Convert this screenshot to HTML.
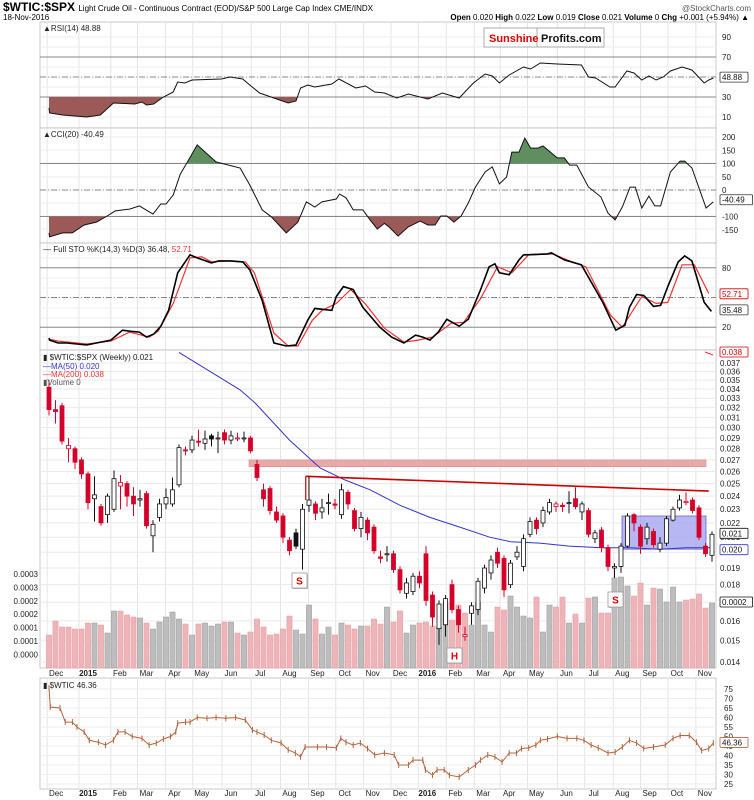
<!DOCTYPE html>
<html><head><meta charset="utf-8">
<style>
body{margin:0;background:#fff;}
svg{display:block;font-family:"Liberation Sans",sans-serif;}
</style></head>
<body>
<svg id="c" width="754" height="800" viewBox="0 0 754 800" xmlns="http://www.w3.org/2000/svg">
<rect x="0" y="0" width="754" height="800" fill="#fff"/>
<g>
<text x="3" y="11" font-size="12" font-weight="bold">$WTIC:$SPX <tspan font-size="8" font-weight="normal">Light Crude Oil - Continuous Contract (EOD)/S&amp;P 500 Large Cap Index  CME/INDX</tspan></text>
<text x="751" y="11" font-size="8" fill="#555" text-anchor="end">@StockCharts.com</text>
<text x="3" y="20" font-size="8">18-Nov-2016</text>
<text x="749" y="20" font-size="8" text-anchor="end"><tspan font-weight="bold">Open</tspan> 0.020 <tspan font-weight="bold">High</tspan> 0.022 <tspan font-weight="bold">Low</tspan> 0.019 <tspan font-weight="bold">Close</tspan> 0.021 <tspan font-weight="bold">Volume</tspan> 0 <tspan font-weight="bold">Chg</tspan> +0.001 (+5.94%) ▲</text>
</g>
<g id="grid"></g>
<g id="marks"></g>
<g id="labels"></g>
<g>
<rect x="484" y="28" width="120" height="19" fill="#fff" stroke="#999" stroke-width="0.8"/>
<line x1="537" y1="28" x2="537" y2="47" stroke="#999" stroke-width="0.8"/>
<text x="489" y="42" font-size="11" font-weight="bold" fill="#d00">Sunshine</text>
<text x="541" y="42" font-size="11" font-weight="bold" fill="#111">Profits.com</text>
</g>
</svg>
<script>
// ---------- DATA ----------
const candleOpen=[.0342,.0318,.0322,.0280,.0280,.0270,.0258,.0238,.0232,.0226,.0230,.0248,.0250,.0240,.0237,.0242,.0211,.0224,.0234,.0234,.0249,.0279,.0279,.0287,.0285,.0292,.0290,.0295,.0288,.0290,.0290,.0290,.0266,.0245,.0246,.0228,.0225,.0208,.0213,.0202,.0233,.0234,.0228,.0235,.0234,.0226,.0243,.0229,.0216,.0222,.0217,.0197,.0199,.0199,.0189,.0175,.0176,.0185,.0199,.0174,.0156,.0158,.0180,.0166,.0152,.0164,.0166,.0178,.0187,.0200,.0196,.0180,.0197,.0191,.0212,.0222,.0220,.0228,.0232,.0233,.0235,.0238,.0228,.0229,.0209,.0215,.0203,.0190,.0191,.0204,.0226,.0217,.0209,.0214,.0202,.0206,.0222,.0231,.0235,.0237,.0231,.0204,.0198];
const candleClose=[.0318,.0316,.0287,.0283,.0268,.0258,.0235,.0241,.0220,.0240,.0254,.0251,.0240,.0234,.0238,.0218,.0219,.0234,.0239,.0245,.0281,.0278,.0288,.0286,.0289,.0289,.0290,.0288,.0292,.0290,.0290,.0278,.0255,.0238,.0229,.0222,.0210,.0201,.0204,.0230,.0237,.0227,.0231,.0235,.0233,.0245,.0234,.0216,.0224,.0213,.0201,.0196,.0199,.0189,.0177,.0181,.0185,.0181,.0171,.0162,.0169,.0172,.0166,.0158,.0153,.0168,.0182,.0190,.0195,.0193,.0177,.0193,.0200,.0209,.0221,.0216,.0229,.0235,.0234,.0232,.0235,.0232,.0234,.0212,.0213,.0203,.0191,.0191,.0204,.0225,.0220,.0204,.0217,.0205,.0206,.0223,.0230,.0237,.0236,.0229,.0210,.0199,.0212];
const candleHigh=[.0350,.0328,.0325,.0290,.0282,.0272,.0260,.0256,.0234,.0242,.0261,.0257,.0252,.0247,.0245,.0244,.0222,.0238,.0246,.0255,.0284,.0282,.0292,.0298,.0297,.0294,.0296,.0298,.0297,.0295,.0296,.0292,.0270,.0250,.0248,.0232,.0227,.0210,.0216,.0234,.0256,.0236,.0238,.0242,.0238,.0250,.0245,.0231,.0228,.0224,.0219,.0201,.0204,.0201,.0191,.0184,.0187,.0188,.0204,.0176,.0171,.0174,.0183,.0168,.0157,.0170,.0184,.0192,.0198,.0203,.0198,.0195,.0204,.0212,.0224,.0224,.0232,.0238,.0236,.0235,.0244,.0247,.0236,.0231,.0215,.0217,.0205,.0193,.0206,.0227,.0227,.0219,.0220,.0216,.0210,.0225,.0232,.0241,.0243,.0239,.0233,.0206,.0214];
const candleLow=[.0312,.0304,.0284,.0268,.0262,.0254,.0230,.0221,.0218,.0220,.0228,.0230,.0232,.0225,.0232,.0216,.0200,.0221,.0230,.0232,.0247,.0274,.0276,.0282,.0279,.0282,.0276,.0284,.0284,.0287,.0286,.0276,.0252,.0232,.0226,.0220,.0206,.0198,.0202,.0189,.0228,.0222,.0223,.0226,.0230,.0223,.0230,.0214,.0210,.0208,.0199,.0193,.0194,.0187,.0175,.0172,.0174,.0178,.0168,.0157,.0148,.0152,.0164,.0154,.0150,.0158,.0163,.0175,.0183,.0190,.0173,.0178,.0195,.0188,.0210,.0212,.0217,.0226,.0228,.0228,.0227,.0230,.0222,.0210,.0206,.0200,.0188,.0184,.0187,.0203,.0214,.0199,.0205,.0203,.0200,.0204,.0221,.0229,.0233,.0227,.0208,.0197,.0194];
const volume=[33,47,41,41,39,39,45,45,43,35,57,57,53,51,50,45,39,46,51,56,49,44,33,44,45,42,44,46,46,35,33,36,49,41,33,34,39,52,38,34,63,49,34,41,33,45,43,39,42,42,49,44,61,46,57,35,43,45,46,42,41,65,48,63,55,43,66,43,36,61,58,72,61,52,50,71,36,63,61,71,45,54,45,70,71,55,55,90,91,82,72,85,63,80,79,66,81,66,68,69,74,60,65];
const ma50Weeks=[20,29.4,31.7,37,41.7,45.5,49.4,54,58.6,63.2,67.8,71,75.5,80,85,89.4,94,98,102];
const ma50Values=[.0383,.0339,.0325,.0288,.0263,.0253,.0245,.0233,.0224,.0217,.0210,.0207,.0206,.0204,.0203,.0203,.0202,.0203,.0203];
const rsiWeeks=[0,0.1,2.1,5.8,7.9,9.9,13.2,14.3,15,16.1,17.6,19.1,19.8,20.9,22,26.5,27.9,29.8,30.9,32.4,34.6,36.8,38,38.7,39.8,40.9,43.5,44.6,47.2,48.7,50.1,51.6,53.5,55.3,58.3,60.5,63.1,65.3,67.1,68.2,69.3,70.8,73,74.1,75.6,78.2,81.9,83,84.1,86.3,87.1,88.9,90,91.2,92.3,93.4,94.5,95.6,97.4,98.9,100.8,101.5,102.2];
const rsiValues=[19,14,12,10,12,24,23,25,22,23,30,35,45,44,47,48,50,48,42,34,29,24,26,39,42,40,43,48,39,41,35,34,29,33,28,34,29,44,53,51,44,52,60,58,64,63,62,50,49,40,40,56,54,47,51,47,50,56,60,57,44,47,49];
const cciWeeks=[0,0.1,2.1,3.6,5.4,7.3,8.7,10.2,12.4,13.9,16,17.2,18,19.1,20.2,21.3,22.8,25.7,29.4,30.9,32.8,34.2,36.5,38.3,39.6,40.9,42,44.2,44.7,45.7,46.8,48.3,49.4,50.5,51.6,52.3,53.7,55.3,57.1,58.3,59.4,60.3,61.2,62.3,63.4,64.5,65.6,67.1,68.2,69.3,70.4,71.2,72.3,73.2,74.1,75.2,76,78.2,79.3,80.1,81.2,83,84.9,86,87.1,88.2,89.4,90.2,91.2,92.3,93.2,94.1,95.6,97.1,97.8,98.9,101.1,102.2];
const cciValues=[-162,-177,-162,-162,-132,-121,-102,-79,-72,-60,-91,-53,-53,-19,60,106,170,106,83,19,-75,-101,-162,-121,-45,-64,-45,-34,-15,-30,-75,-75,-113,-147,-126,-139,-174,-139,-117,-132,-132,-98,-98,-121,-98,-49,11,68,87,23,49,143,143,196,158,158,166,121,121,94,94,11,-26,-87,-113,-64,11,11,-68,-23,-60,-60,68,109,109,83,-68,-45];
const stoKWeeks=[0,0.1,1.4,2.8,5.8,7.3,9.5,11.3,12.4,13.9,15,16.1,17.2,18.4,19.8,21.7,22.8,25,26.1,27.9,29.8,30.9,32.8,34.6,36.5,38,39.8,40.9,43.5,44.2,45.3,46.8,48.3,50.9,52.7,54.6,56.4,57.5,58.6,59.9,61.2,63.1,64.5,66.4,67.7,68.6,69.3,70.8,72.3,73,76.7,77.3,79.3,81.9,85.2,87.2,88.6,89.3,90.4,91.5,93,94.1,95.2,96.8,97.8,98.9,100.8,101.9];
const stoKValues=[9,7,4,4,2,4,7,17,16,15,10,13,21,37,75,93,90,85,87,87,86,78,47,4,1,2,27,39,37,51,61,58,40,20,10,4,12,10,7,15,28,21,28,58,81,84,75,73,88,93,94,95,88,83,45,17,22,40,53,52,41,42,61,86,92,87,45,36];
const stoDWeeks=[0,1.4,5.8,9.5,12.4,15.4,16.8,19.1,21.7,23.5,25,27.9,30.2,31.6,34.6,36.8,38.3,40.5,42,44.2,46.4,48.6,51.6,54.6,56.8,59,61.9,63.8,66.4,69,71.2,73.8,77.5,79.7,82.6,86.4,88.2,91.2,93.4,95.2,97.4,99.3,101.5];
const stoDValues=[8,6,3,6,15,10,16,44,90,91,86,87,86,75,14,1,1,27,37,44,58,44,19,5,7,10,24,25,49,81,75,93,94,88,81,32,20,51,44,45,83,83,54];
const wticWeeks=[0,0.2,1.7,2.5,3.6,4.3,5.4,6.2,7.6,8.7,9.9,10.6,11.7,12.8,14.3,15.4,16.5,17.6,18.7,19.5,19.8,21,21.7,22.8,24.3,25.7,27.2,28.7,30.2,31.3,32,33.1,34.2,35.7,36.8,37.9,38.7,39.4,41.3,42.7,44.2,44.9,45.7,46.8,47.9,49,50.1,51.6,53.1,53.8,55.3,56,57.5,57.9,59,59.7,60.8,61.6,63.1,64.5,65.6,66.4,67.5,68.6,69.7,70.8,71.9,72.7,73.8,74.9,75.6,76.7,78.2,79.7,81.2,82.3,83.4,84.5,86,87.1,88.2,89.3,90.4,91.5,93,94.8,96,97.1,98.5,99.6,100.4,101.5,102.2];
const wticValues=[75.5,65.5,65,57.6,57.6,55,52.4,48,47,45.5,48,52.4,52.4,50,49,45.5,46.6,48.7,50,52.4,57,57.6,57.6,60,59.6,60,59.6,60,58.7,53.4,52.4,50.8,48,46.6,43,41.3,39.3,44.5,44.5,44.5,44,49,47,45.5,46.6,43.7,40.3,41.3,40.3,35,35,37.6,37.6,32.4,29.7,32.4,32.4,29.7,28.7,32.4,35,37.6,40.3,39.3,36.6,41.3,41.3,43.7,44,45.5,48,48.7,50,49,49,48,45.5,44,41.3,41.8,44.5,48,46.6,43.7,44.5,45.5,49,50.5,50.5,47,42.6,43.7,46.6];
const monthNames=["Dec","2015","Feb","Mar","Apr","May","Jun","Jul","Aug","Sep","Oct","Nov","Dec","2016","Feb","Mar","Apr","May","Jun","Jul","Aug","Sep","Oct","Nov"];
const monthWeeks=[1.1,6,10.9,15,19.3,23.5,28,32.5,37,41.3,45.5,49.8,54,58.2,62.5,66.8,70.8,75,79.6,83.8,88.2,92.4,96.6,100.9];
const priceTicks=[.037,.036,.035,.034,.033,.032,.031,.030,.029,.028,.027,.026,.025,.024,.023,.022,.021,.020,.019,.018,.017,.016,.015,.014];
const wticTicks=[75,70,65,60,55,50,45,40,35,30,25];
const rsiTicks=[90,70,50,30,10];
const cciTicks=[200,150,100,50,0,-100,-150];
const volTicks=["0.0003","0.0003","0.0002","0.0002","0.0001","0.0001","0.0000"];
const resistWeeks=[39.5,101.5];
const resistValues=[.0256,.0244];

// ---------- SCALES ----------
const NS="http://www.w3.org/2000/svg";
const L=40,R=716;
const X=i=>49+i*6.5;
const yP=v=>363+(Math.log(.037)-Math.log(v))/0.972*299;
const yRSI=v=>127-v;
const yCCI=v=>190-v*0.265;
const ySTO=v=>347-v*0.99;
const yW=v=>689+(75-v)*1.9;
const yVol=v=>668-v;
function mk(tag,attrs,parent){const e=document.createElementNS(NS,tag);for(const k in attrs)e.setAttribute(k,attrs[k]);parent.appendChild(e);return e;}
const G=document.getElementById('grid'),M=document.getElementById('marks'),LB=document.getElementById('labels');
function txt(x,y,s,size,fill,anchor,parent,weight){const t=mk('text',{x:x,y:y,'font-size':size,fill:fill||'#222','text-anchor':anchor||'start'},parent);if(weight)t.setAttribute('font-weight',weight);t.textContent=s;return t;}
function box(x,y,s,col){const w=s.length*4.6+5;const r=mk('rect',{x:x-2,y:y-6,width:w,height:10,fill:'#fff',stroke:col,'stroke-width':0.8,rx:1},LB);const t=txt(x,y+2,s,8,col==='#c00'?'#c00':'#111','start',LB);}

const panels=[[22,128,'rsi-panel'],[128,243,'cci-panel'],[243,350,'sto-panel'],[350,668,'price-panel'],[678,789,'wtic-panel']];
panels.forEach(p=>{
  const r=mk('rect',{x:L,y:p[0],width:R-L,height:p[1]-p[0],fill:'#fff',stroke:'#bbb','stroke-width':0.8},G);
  
  monthWeeks.forEach(w=>{mk('line',{x1:X(w)-9,x2:X(w)-9,y1:p[0],y2:p[1],stroke:'#e4e4e4','stroke-width':1},G);});
});
[37,47,57,67,77,87,97,107,117].forEach(y=>mk('line',{x1:L,x2:R,y1:y,y2:y,stroke:'#eee'},G));
[137,150,163,177,190,203,216,229].forEach(y=>mk('line',{x1:L,x2:R,y1:y,y2:y,stroke:'#eee'},G));
[258,268,278,288,298,308,318,327,337].forEach(y=>mk('line',{x1:L,x2:R,y1:y,y2:y,stroke:'#eee'},G));
priceTicks.forEach(v=>mk('line',{x1:L,x2:R,y1:yP(v),y2:yP(v),stroke:'#eaeaea'},G));
wticTicks.forEach(v=>mk('line',{x1:L,x2:R,y1:yW(v),y2:yW(v),stroke:'#eee'},G));
function ref(y,dash,name){const l=mk('line',{x1:L,x2:R,y1:y,y2:y,stroke:'#888','stroke-width':1},G);if(dash)l.setAttribute('stroke-dasharray','6,2,1,2');}
ref(yRSI(70),0,'rsi-70-line');ref(yRSI(50),1,'rsi-50-line');ref(yRSI(30),0,'rsi-30-line');
ref(yCCI(100),0,'cci-100-line');ref(yCCI(0),1,'cci-0-line');ref(yCCI(-100),0,'cci-minus100-line');
ref(ySTO(80),0,'sto-80-line');ref(ySTO(50),1,'sto-50-line');ref(ySTO(20),0,'sto-20-line');

function pts(ws,vs,fy){return ws.map((w,i)=>[Math.max(L,X(w)),fy(vs[i])]);}
function poly(p){return p.map(q=>q[0].toFixed(1)+','+q[1].toFixed(1)).join(' ');}
function fillBand(ws,vs,fy,thr,above,color,name){
  const p=pts(ws,vs,fy),yt=fy(thr);
  const clip=mk('clipPath',{id:name+'-clip'},M);
  mk('rect',above?{x:L,y:0,width:R-L,height:yt}:{x:L,y:yt,width:R-L,height:800},clip);
  const a=[[p[0][0],yt]].concat(p).concat([[p[p.length-1][0],yt]]);
  const pg=mk('polygon',{points:poly(a),fill:color,'clip-path':'url(#'+name+'-clip)'},M);
  
}
fillBand(rsiWeeks,rsiValues,yRSI,30,false,'#9b5a58','rsi-oversold-fill');
let pl=mk('polyline',{points:poly(pts(rsiWeeks,rsiValues,yRSI)),fill:'none',stroke:'#111','stroke-width':1},M);

fillBand(cciWeeks,cciValues,yCCI,100,true,'#5f8f5f','cci-overbought-fill');
fillBand(cciWeeks,cciValues,yCCI,-100,false,'#9b5a58','cci-oversold-fill');
pl=mk('polyline',{points:poly(pts(cciWeeks,cciValues,yCCI)),fill:'none',stroke:'#111','stroke-width':1},M);

pl=mk('polyline',{points:poly(pts(stoDWeeks,stoDValues,ySTO)),fill:'none',stroke:'#e33','stroke-width':1.2},M);

pl=mk('polyline',{points:poly(pts(stoKWeeks,stoKValues,ySTO)),fill:'none',stroke:'#000','stroke-width':1.6},M);


let rr=mk('rect',{x:249,y:yP(.0270),width:706-249,height:yP(.0265)-yP(.0270)+1,fill:'#e9a9a9',stroke:'#d88','stroke-width':0.6},M);

rr=mk('rect',{x:622,y:yP(.0225),width:706-622,height:yP(.0202)-yP(.0225),fill:'#9f9ff0',stroke:'#66c','stroke-width':0.8,'fill-opacity':0.75},M);

candleClose.forEach((c,i)=>{
  const up=i===0?false:c>=candleClose[i-1];
  const b=mk('rect',{x:X(i)-2.6,y:yVol(volume[i]),width:5.2,height:668-yVol(volume[i]),fill:up?'#bdbdbd':'#eeb4b8',stroke:up?'#999':'#e39aa0','stroke-width':0.5},M);
  
});
pl=mk('polyline',{points:poly(pts(ma50Weeks,ma50Values,yP).map(q=>[q[0],Math.max(352,q[1])])),fill:'none',stroke:'#33c','stroke-width':1},M);

pl=mk('line',{x1:705,y1:352,x2:713,y2:355,stroke:'#e33','stroke-width':1},M);

pl=mk('line',{x1:X(resistWeeks[0]),y1:yP(resistValues[0]),x2:X(resistWeeks[1]),y2:yP(resistValues[1]),stroke:'#c00','stroke-width':1.6},M);

pl=mk('line',{x1:X(resistWeeks[0]),y1:yP(resistValues[0]),x2:X(resistWeeks[0]),y2:yP(.0237),stroke:'#c00','stroke-width':1.2},M);

candleClose.forEach((c,i)=>{
  const o=candleOpen[i],h=candleHigh[i],l=candleLow[i];
  const down=i===0?true:c<candleClose[i-1];
  const col=down?'#d4002a':'#111';
  const filled=c<o;
  const w=mk('line',{x1:X(i),x2:X(i),y1:yP(h),y2:yP(l),stroke:col,'stroke-width':1},M);
  
  const t=yP(Math.max(o,c)),bt=yP(Math.min(o,c));
  const b=mk('rect',{x:X(i)-2,y:t,width:4,height:Math.max(1,bt-t),fill:filled?col:'#fff',stroke:col,'stroke-width':0.8},M);
  
});
[[292,573,'S','left-shoulder-label'],[447,648,'H','head-label'],[608,592,'S','right-shoulder-label']].forEach(a=>{
  const g=mk('g',{},M);
  mk('rect',{x:a[0]+1,y:a[1]+1,width:15,height:15,fill:'#bbb'},g);
  mk('rect',{x:a[0],y:a[1],width:15,height:15,fill:'#fff',stroke:'#999','stroke-width':0.8},g);
  txt(a[0]+7.5,a[1]+11.5,a[2],10,'#d00','middle',g,'bold');
});
pl=mk('polyline',{points:poly(pts(wticWeeks,wticValues,yW)),fill:'none',stroke:'#b5643c','stroke-width':1},M);

wticWeeks.forEach((w,i)=>{const x=Math.max(L+2,X(w)),y=yW(wticValues[i]);const t=mk('line',{x1:x,x2:x,y1:y-3,y2:y+3,stroke:'#b5643c','stroke-width':1},M);});

rsiTicks.forEach(v=>{if(v!==50)txt(722,yRSI(v)+3,String(v),8,'#222','start',LB);});
box(722,yRSI(48.88),'48.88','#333');
cciTicks.forEach(v=>txt(722,yCCI(v)+3,String(v),8,'#222','start',LB));
box(722,yCCI(-40.49),'-40.49','#333');
txt(722,ySTO(80)+3,'80',8,'#222','start',LB);txt(722,ySTO(20)+3,'20',8,'#222','start',LB);
box(722,ySTO(52.71),'52.71','#c00');box(722,ySTO(36.48),'35.48','#333');
priceTicks.forEach(v=>txt(720,yP(v)+3,v.toFixed(3),8,'#222','start',LB));
box(722,353,'0.038','#c00');box(722,yP(.0212),'0.021','#111');box(722,yP(.0201),'0.020','#33c');box(722,603,'0.0002','#111');
volTicks.forEach((s,i)=>txt(38,574+i*13.4+3,s,8,'#222','end',LB));
wticTicks.forEach(v=>txt(724,yW(v)+3,String(v),8,'#222','start',LB));
box(722,yW(46.36),'46.36','#b5643c');
[673,793].forEach(y=>monthNames.forEach((m,i)=>{const t=txt(X(monthWeeks[i]),y+3,m,8,'#222','middle',LB,(m==='2015'||m==='2016')?'bold':null);}));
function leg(x,y,s,col,name){const t=txt(x,y,s,8,col,'start',LB);return t;}
leg(43,31,'▲RSI(14) 48.88','#222','rsi-legend');
leg(43,137,'▲CCI(20) -40.49','#222','cci-legend');
const sl=leg(43,252,'— Full STO %K(14,3) %D(3) 36.48, ','#222','sto-legend');const ts=document.createElementNS(NS,'tspan');ts.setAttribute('fill','#e33');ts.textContent='52.71';sl.appendChild(ts);
leg(43,360,'▮ $WTIC:$SPX (Weekly) 0.021','#222','price-legend');
leg(43,369,'—MA(50) 0.020','#33c','ma50-legend');
leg(43,377,'—MA(200) 0.038','#e33','ma200-legend');
leg(43,385,'▮Volume 0','#555','volume-legend');
leg(43,688,'▮ $WTIC 46.36','#222','wtic-legend');
</script>
</body></html>
